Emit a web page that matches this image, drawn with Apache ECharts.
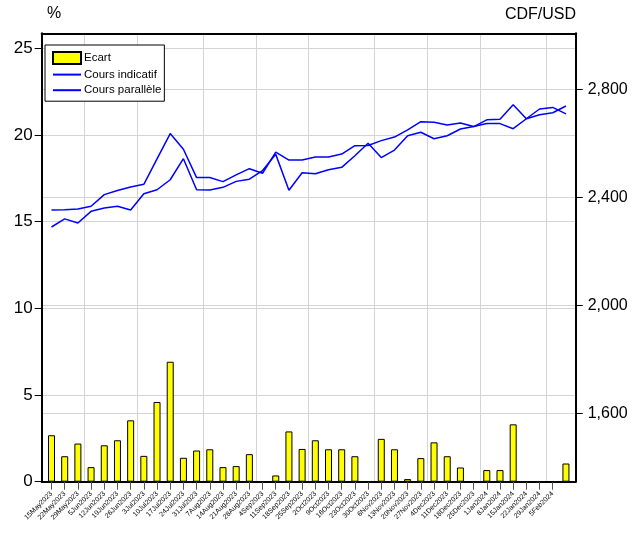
<!DOCTYPE html>
<html>
<head>
<meta charset="utf-8">
<script src="https://cdn.jsdelivr.net/npm/echarts@6/dist/echarts.min.js"></script>
<style>html,body{margin:0;padding:0;background:#fff}#c{width:641px;height:533px}</style>
</head>
<body>
<div id="c"></div>
<script>
// ---- data ----
const dates = ['15May2023','22May2023','29May2023','5Jun2023','12Jun2023','19Jun2023','26Jun2023','3Jul2023','10Jul2023','17Jul2023','24Jul2023','31Jul2023','7Aug2023','14Aug2023','21Aug2023','28Aug2023','4Sep2023','11Sep2023','18Sep2023','25Sep2023','2Oct2023','9Oct2023','16Oct2023','23Oct2023','30Oct2023','6Nov2023','13Nov2023','20Nov2023','27Nov2023','4Dec2023','11Dec2023','18Dec2023','25Dec2023','1Jan2024','8Jan2024','15Jan2024','22Jan2024','29Jan2024','5Feb2024','12Feb2024'];
const labelledCount = 39; // last week has no tick label
const ecart = [2.68,1.47,2.20,0.84,2.10,2.39,3.54,1.49,4.60,6.92,1.38,1.80,1.87,0.84,0.90,1.59,0,0.36,2.90,1.89,2.39,1.87,1.87,1.47,0,2.47,1.87,0.15,1.36,2.27,1.47,0.82,0,0.67,0.67,3.31,0,0,0,1.05];
const coursIndicatif = [2290,2320,2305,2348,2360,2367,2353,2413,2428,2465,2543,2428,2427,2437,2459,2467,2499,2559,2426,2491,2487,2502,2511,2554,2600,2547,2575,2628,2641,2617,2628,2653,2662,2673,2673,2654,2691,2727,2733,2709];
const coursParallele = [2353,2354,2357,2367,2410,2425,2438,2448,2542,2636,2578,2473,2473,2458,2483,2506,2489,2567,2538,2538,2549,2549,2560,2591,2592,2610,2623,2650,2680,2678,2668,2675,2662,2687,2689,2743,2691,2706,2713,2738];
const leftTicks = [0,5,10,15,20,25];
const rightTicks = [1600,2000,2400,2800];
const monthBreaks = [2.5,6.5,11.5,15.5,19.5,24.5,28.5,32.5,37.5];

const FONT = "'Liberation Sans Narrow','Arial Narrow','Liberation Sans',sans-serif";
const xIdx = dates.map((d,i)=>i).slice(0,labelledCount);
const toPts = arr => arr.map((v,i)=>[i,v]);
const XMIN = -0.743, XMAX = 39.74;
const grid = '#d4d4d4';
const axisLine = {show:true, onZero:false, lineStyle:{color:'#000', width:2}};

const chart = echarts.init(document.getElementById('c'), null, {renderer:'canvas'});
chart.setOption({
  animation:false,
  backgroundColor:'#fff',
  title:[
    {text:'%', left:47, top:6, padding:0, textStyle:{fontFamily:FONT, fontSize:16, fontWeight:'normal', color:'#000'}},
    {text:'CDF/USD', right:65, top:7, padding:0, textStyle:{fontFamily:FONT, fontSize:16, fontWeight:'normal', color:'#000'}}
  ],
  grid:{left:41.7, right:65.3, top:33.3, bottom:51.3, containLabel:false},
  legend:{
    data:[
      {name:'Ecart', icon:'rect'},
      {name:'Cours indicatif', itemStyle:{opacity:0}},
      {name:'Cours parallèle', itemStyle:{opacity:0}}
    ],
    orient:'vertical', left:45, top:45,
    itemWidth:28, itemHeight:12, itemGap:3.6,
    padding:[6,3,5,7],
    borderColor:'#000', borderWidth:1, backgroundColor:'#fff',
    textStyle:{fontFamily:FONT, fontSize:11.5, color:'#000', padding:[0,0,0,-2]}
  },
  xAxis:[
    {type:'value', min:XMIN, max:XMAX, position:'bottom',
     axisLine:axisLine,
     axisTick:{show:true, customValues:xIdx, length:8, lineStyle:{color:'#555'}},
     axisLabel:{customValues:xIdx, rotate:45, fontSize:7, fontFamily:FONT, color:'#000', margin:11,
                formatter:v=>dates[Math.round(v)]},
     splitLine:{show:false}},
    {type:'value', min:XMIN, max:XMAX, position:'top',
     axisLine:axisLine,
     axisTick:{show:false, customValues:monthBreaks},
     axisLabel:{show:false, customValues:monthBreaks},
     splitLine:{show:true, lineStyle:{color:grid, width:1}}}
  ],
  yAxis:[
    {type:'value', min:0, max:25.87, position:'left',
     axisLine:axisLine,
     axisTick:{show:true, customValues:leftTicks, length:7, lineStyle:{color:'#000'}},
     axisLabel:{customValues:leftTicks, fontFamily:FONT, fontSize:17, color:'#000', margin:9},
     splitLine:{show:true, lineStyle:{color:grid, width:1}}},
    {type:'value', min:1346.7, max:3007.4, position:'right',
     axisLine:axisLine,
     axisTick:{show:true, customValues:rightTicks, length:7, lineStyle:{color:'#000'}},
     axisLabel:{customValues:rightTicks, fontFamily:FONT, fontSize:16, color:'#000', margin:12,
                formatter:v=>v.toLocaleString('en-US')},
     splitLine:{show:true, lineStyle:{color:grid, width:1}}}
  ],
  series:[
    {name:'Ecart', type:'bar', xAxisIndex:0, yAxisIndex:0, barWidth:7,
     itemStyle:{color:'#ffff00', borderColor:'#000', borderWidth:1},
     data:toPts(ecart)},
    {name:'Cours indicatif', type:'line', xAxisIndex:0, yAxisIndex:1, symbol:'none',
     lineStyle:{color:'#0000ff', width:1.5}, itemStyle:{color:'#0000ff'},
     data:toPts(coursIndicatif)},
    {name:'Cours parallèle', type:'line', xAxisIndex:0, yAxisIndex:1, symbol:'none',
     lineStyle:{color:'#0000ff', width:1.5}, itemStyle:{color:'#0000ff'},
     data:toPts(coursParallele)}
  ]
});
</script>
</body>
</html>
